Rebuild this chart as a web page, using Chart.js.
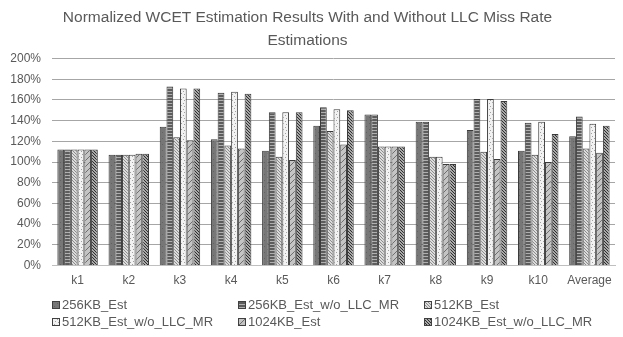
<!DOCTYPE html>
<html>
<head>
<meta charset="utf-8">
<script src="https://cdn.jsdelivr.net/npm/chart.js@4.4.1/dist/chart.umd.min.js"></script>
<style>
  html, body { margin: 0; padding: 0; background: #fff; }
  #wrap { position: relative; width: 623px; height: 337px; }
</style>
</head>
<body>
<div id="wrap"><canvas id="chart-wcet"></canvas></div>
<script>
// categories and series (percent of baseline)
const categories = ['k1', 'k2', 'k3', 'k4', 'k5', 'k6', 'k7', 'k8', 'k9', 'k10', 'Average'];
const seriesNames = ['256KB_Est', '256KB_Est_w/o_LLC_MR', '512KB_Est',
                     '512KB_Est_w/o_LLC_MR', '1024KB_Est', '1024KB_Est_w/o_LLC_MR'];

const est256     = [112, 107, 134, 122, 111, 135, 146, 139, 131, 111, 125];
const est256NoMR = [112, 107, 173, 167, 148, 153, 146, 139, 161, 138, 144];
const est512     = [112, 107, 124, 116, 105, 130, 115, 105, 110, 107, 113];
const est512NoMR = [112, 107, 171, 168, 148, 151, 115, 105, 161, 139, 137];
const est1024    = [112, 108, 121, 113, 102, 117, 115,  98, 103, 100, 109];
const est1024NoMR= [112, 108, 171, 166, 148, 150, 115,  98, 159, 127, 135];

const yTicks = [0, 20, 40, 60, 80, 100, 120, 140, 160, 180, 200];

const FONT = '"Liberation Sans", Arial, sans-serif';
const TEXT = '#595959';

// build grayscale fill patterns, one per series
function makePattern(kind) {
    const c = document.createElement('canvas');
    const s = 6;
    c.width = s; c.height = s;
    const g = c.getContext('2d');
    if (kind === 0) {
        g.fillStyle = '#777'; g.fillRect(0, 0, s, s);
        g.fillStyle = '#636363'; g.fillRect(0, 0, 1, 1); g.fillRect(3, 3, 1, 1);
    } else if (kind === 1) {
        g.fillStyle = '#5c5c5c'; g.fillRect(0, 0, s, s);
        g.fillStyle = '#b0b0b0'; g.fillRect(0, 1, s, 1); g.fillRect(0, 4, s, 1);
    } else if (kind === 2) {
        g.fillStyle = '#dcdcdc'; g.fillRect(0, 0, s, s);
        g.fillStyle = '#8c8c8c';
        for (let i = 0; i < s; i++) { g.fillRect(i, i, 1, 1); g.fillRect((i + 3) % s, i, 1, 1); }
    } else if (kind === 3) {
        g.fillStyle = '#f2f2f2'; g.fillRect(0, 0, s, s);
        g.fillStyle = '#a0a0a0';
        g.fillRect(0, 0, 1, 1); g.fillRect(3, 1, 1, 1); g.fillRect(1, 3, 1, 1); g.fillRect(4, 4, 1, 1);
    } else if (kind === 4) {
        g.fillStyle = '#c4c4c4'; g.fillRect(0, 0, s, s);
        g.fillStyle = '#6e6e6e';
        for (let i = 0; i < s; i++) { g.fillRect(s - 1 - i, i, 1, 1); }
    } else {
        g.fillStyle = '#a8a8a8'; g.fillRect(0, 0, s, s);
        g.fillStyle = '#2e2e2e';
        for (let i = 0; i < s; i++) { g.fillRect(i, i, 1, 1); g.fillRect((i + 3) % s, i, 1, 1); }
    }
    return g.createPattern(c, 'repeat');
}

const seriesValues = [est256, est256NoMR, est512, est512NoMR, est1024, est1024NoMR];
const patterns = seriesValues.map((_, i) => makePattern(i));

// legend drawn as a fixed 3-column grid, like the office chart
const gridLegend = {
    id: 'gridLegend',
    afterDraw(chart) {
        const ctx = chart.ctx;
        const colX = [52, 238, 424];
        const rowY = [305, 322];
        ctx.save();
        ctx.font = '13px ' + FONT;
        ctx.textBaseline = 'middle';
        chart.data.datasets.forEach((ds, i) => {
            const x = colX[i % 3];
            const y = rowY[Math.floor(i / 3)];
            ctx.fillStyle = ds.backgroundColor;
            ctx.fillRect(x, y - 4, 8, 8);
            ctx.strokeStyle = '#404040';
            ctx.lineWidth = 1;
            ctx.strokeRect(x + 0.5, y - 3.5, 7, 7);
            ctx.fillStyle = TEXT;
            ctx.fillText(ds.label, x + 10, y);
        });
        ctx.restore();
    },
};

const wcetChart = new Chart(document.getElementById('chart-wcet'), {
    type: 'bar',
    data: {
        labels: categories,
        datasets: seriesValues.map((vals, i) => ({
            label: seriesNames[i],
            data: vals,
            backgroundColor: patterns[i],
            borderColor: '#3a3a3a',
            borderWidth: 1,
            categoryPercentage: 0.79,
            barPercentage: 1.0,
        })),
    },
    options: {
        responsive: true,
        maintainAspectRatio: false,
        animation: false,
        layout: { padding: { left: 0, right: 8, top: 6, bottom: 41 } },
        plugins: {
            legend: { display: false },
            tooltip: { enabled: false },
            title: {
                display: true,
                text: ['Normalized WCET Estimation Results With and Without LLC Miss Rate', 'Estimations'],
                color: TEXT,
                font: { family: FONT, size: 15.5, weight: 'normal', lineHeight: 1.5 },
                padding: { top: 0, bottom: 6 },
            },
        },
        scales: {
            x: {
                grid: { display: false, drawTicks: false },
                border: { color: '#bfbfbf' },
                ticks: { color: TEXT, font: { family: FONT, size: 12 }, padding: 8 },
            },
            y: {
                min: 0,
                max: 200,
                afterBuildTicks: (scale) => { scale.ticks = yTicks.map(v => ({ value: v })); },
                afterFit: (scale) => { scale.width = 52; },
                grid: { color: '#a6a6a6', drawTicks: false },
                border: { display: false },
                ticks: {
                    color: TEXT,
                    font: { family: FONT, size: 12 },
                    padding: 11,
                    callback: (v) => v + '%',
                },
            },
        },
    },
    plugins: [gridLegend],
});
</script>
</body>
</html>
